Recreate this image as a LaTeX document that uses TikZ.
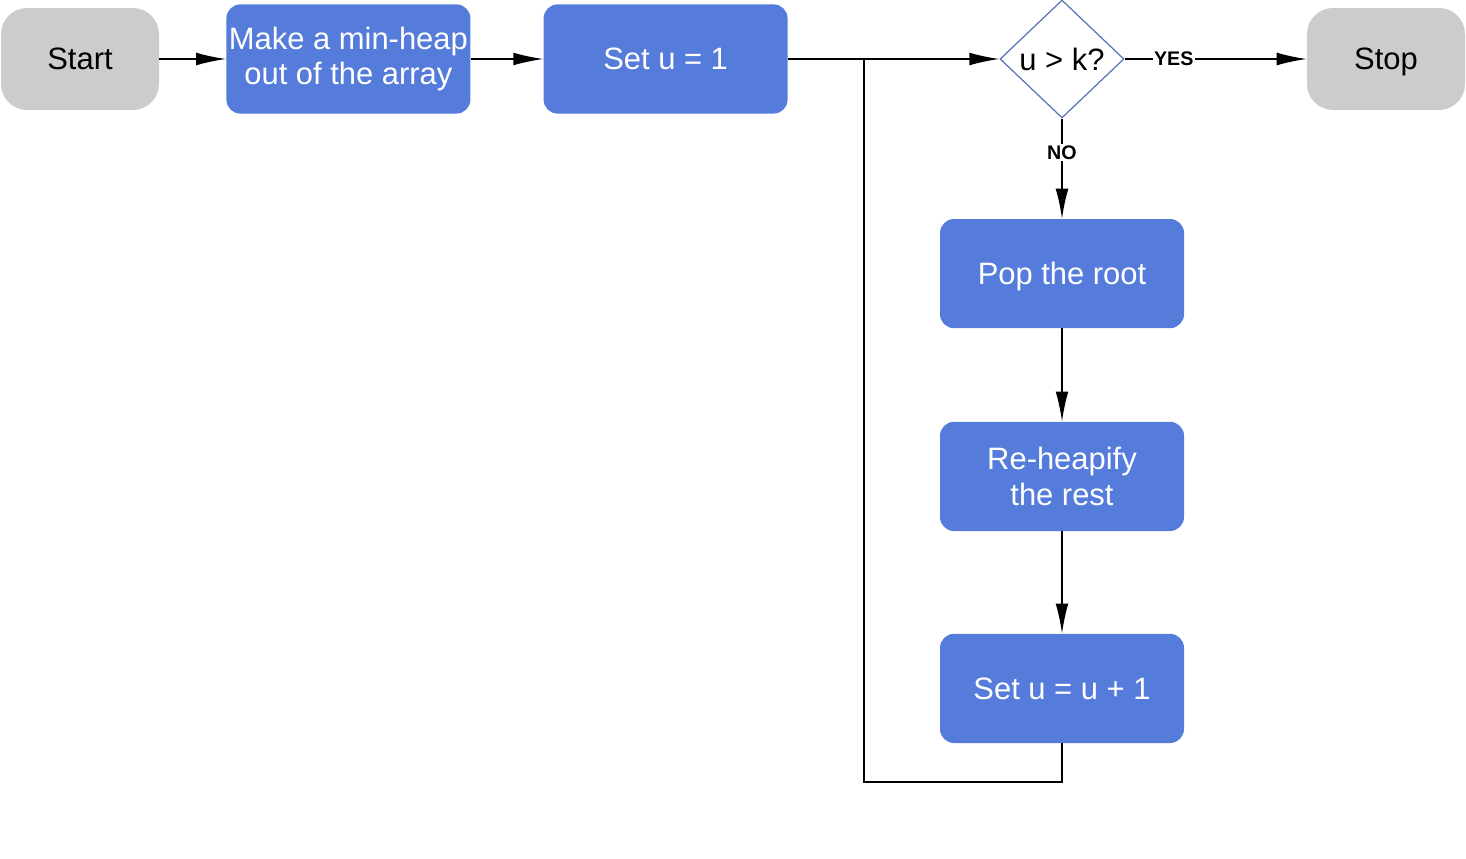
\documentclass[tikz,border=0pt]{standalone}
\usepackage{fontspec}
\setmainfont{Liberation Sans}
\usetikzlibrary{arrows.meta,shapes.geometric}
\definecolor{boxblue}{HTML}{557CDB}
\definecolor{endgray}{HTML}{CCCCCC}
\definecolor{rimblue}{HTML}{5B77B8}

\begin{document}
\begin{tikzpicture}[
    endbox/.style={fill=endgray,rounded corners=0.65cm,minimum width=3.95cm,minimum height=2.55cm,
      text depth=0pt,font=\fontsize{22}{25}\selectfont},
    stepbox/.style={fill=boxblue,text=white,rounded corners=0.35cm,minimum width=6.1cm,minimum height=2.73cm,
      align=center,inner sep=1pt,font=\fontsize{22}{25}\selectfont},
    testbox/.style={diamond,draw=rimblue,line width=0.9pt,inner sep=0pt,minimum width=3.1cm,minimum height=2.95cm,
      font=\fontsize{22}{25}\selectfont},
    flow/.style={line width=1.1pt,-{Latex[length=7.5mm,width=3.2mm]}},
    tag/.style={fill=white,inner sep=1pt,font=\fontsize{14}{16}\selectfont\bfseries}
  ]
  \useasboundingbox (0,0) rectangle (36.65,-21.475);
  \node[endbox] (start) at (2,-1.475) {Start};
  \node[stepbox] (heap) at (8.71,-1.475) {Make a min-heap\\out of the array};
  \node[stepbox] (init) at (16.64,-1.475) {Set u = 1};
  \node[testbox] (test) at (26.55,-1.475) {u > k?};
  \node[endbox] (stop) at (34.65,-1.475) {Stop};
  \node[stepbox,text depth=0pt] (pop) at (26.55,-6.84) {Pop the root};
  \node[stepbox] (heapify) at (26.55,-11.91) {Re-heapify\\the rest};
  \node[stepbox] (incr) at (26.55,-17.21) {Set u = u + 1};
  \coordinate (join) at (21.6,-1.475);
  \coordinate (low) at (21.6,-19.55);

  \draw[flow] (start) -- (heap);
  \draw[flow] (heap) -- (init);
  \draw[flow] (init) -- (test);
  \draw[flow] (test) -- node[tag,pos=0.27] {YES} (stop);
  \draw[flow] (test) -- node[tag,pos=0.34] {NO} (pop);
  \draw[flow] (pop) -- (heapify);
  \draw[flow] (heapify) -- (incr);
  \draw[line width=1.1pt] (incr.south) |- (low) -- (join);
\end{tikzpicture}
\end{document}
